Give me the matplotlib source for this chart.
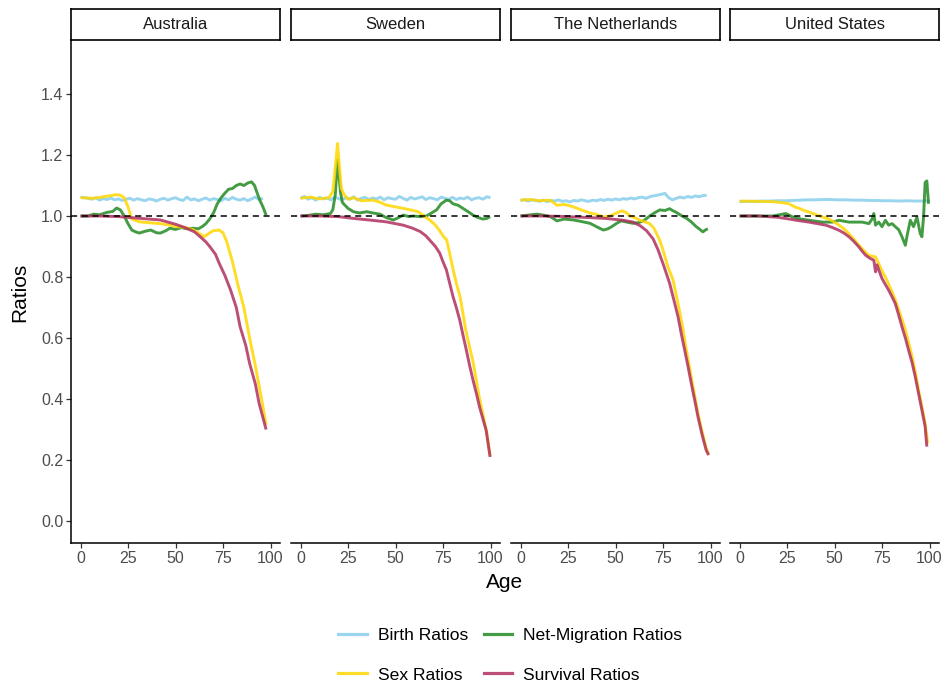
import numpy as np
import matplotlib.pyplot as plt
from matplotlib.lines import Line2D

plt.rcParams['font.family'] = ['Liberation Sans', 'DejaVu Sans']

countries = ['Australia', 'Sweden', 'The Netherlands', 'United States']
series_names = ['Birth Ratios', 'Net-Migration Ratios', 'Sex Ratios', 'Survival Ratios']
colors = {'Birth Ratios': '#87CEEB', 'Net-Migration Ratios': '#228B22',
          'Sex Ratios': '#FFD700', 'Survival Ratios': '#B03060'}

# ---- Australia ----
au_birth_age = list(range(0, 98, 2))
au_birth = [1.062, 1.060, 1.058, 1.055, 1.060, 1.052, 1.057, 1.054, 1.059, 1.053, 1.056, 1.051,
            1.055, 1.058, 1.052, 1.057, 1.053, 1.050, 1.056, 1.054, 1.049, 1.055, 1.058, 1.052,
            1.057, 1.060, 1.054, 1.051, 1.062, 1.053, 1.056, 1.050, 1.055, 1.059, 1.052, 1.057,
            1.054, 1.050, 1.058, 1.053, 1.061, 1.055, 1.052, 1.057, 1.050, 1.056, 1.062, 1.054, 1.058]
au_net_age = [0, 4, 7, 10, 14, 17, 19, 21, 23, 25, 27, 29, 31, 34, 37, 40, 42, 45, 47, 50, 53, 56,
              59, 62, 64, 66, 68, 70, 72, 74, 76, 78, 80, 82, 84, 86, 88, 90, 91.6, 93, 94.5, 96, 97.7]
au_net = [1.0, 1.0, 1.006, 1.004, 1.012, 1.015, 1.026, 1.02, 1.0, 0.975, 0.954, 0.948, 0.944, 0.95,
          0.954, 0.945, 0.944, 0.952, 0.96, 0.956, 0.962, 0.958, 0.96, 0.958, 0.965, 0.975, 0.99,
          1.01, 1.04, 1.06, 1.075, 1.088, 1.09, 1.1, 1.105, 1.1, 1.108, 1.112, 1.1, 1.075, 1.05,
          1.03, 1.003]
au_sex_age = [0, 7, 14, 19, 21, 23, 25, 27, 31, 36, 42, 47, 51, 55, 59, 62, 65, 68, 70, 73, 75, 77,
              80, 83, 86, 89, 92, 95, 97.7]
au_sex = [1.06, 1.058, 1.065, 1.07, 1.068, 1.06, 1.03, 0.99, 0.981, 0.978, 0.975, 0.970, 0.965,
          0.962, 0.956, 0.945, 0.932, 0.945, 0.952, 0.954, 0.945, 0.915, 0.85, 0.77, 0.70, 0.60,
          0.51, 0.41, 0.315]
au_surv_age = [0, 10, 20, 30, 42, 50, 55, 60, 63, 66, 68, 71, 73, 76, 79, 82, 84, 87, 89, 92, 94, 97.7]
au_surv = [1.0, 1.0, 0.998, 0.993, 0.987, 0.973, 0.962, 0.948, 0.932, 0.915, 0.9, 0.875, 0.845,
           0.805, 0.757, 0.70, 0.637, 0.575, 0.517, 0.45, 0.386, 0.30]

# ---- Sweden ----
se_birth_age = list(range(0, 101, 2))
se_birth = [1.058, 1.064, 1.055, 1.060, 1.052, 1.061, 1.056, 1.059, 1.053, 1.062, 1.057, 1.054,
            1.060, 1.055, 1.063, 1.052, 1.058, 1.061, 1.054, 1.059, 1.056, 1.062, 1.053, 1.060,
            1.057, 1.055, 1.064, 1.058, 1.052, 1.061, 1.056, 1.059, 1.063, 1.054, 1.060, 1.057,
            1.053, 1.062, 1.058, 1.055, 1.061, 1.054, 1.059, 1.056, 1.062, 1.053, 1.058, 1.060,
            1.055, 1.063, 1.060]
se_net_age = [0, 4, 8, 12, 15.7, 17, 18.3, 19.5, 20.2, 21, 22, 22.7, 25, 27.9, 31, 34.9, 38, 41.9,
              45, 48.9, 51, 54.1, 57, 59.3, 63, 66.3, 69, 71.6, 74, 76.8, 78.5, 80.3, 83, 85.5, 88,
              90.8, 93, 96, 98, 99.8]
se_net = [1.0, 1.002, 1.006, 1.004, 1.008, 1.02, 1.07, 1.184, 1.14, 1.08, 1.045, 1.04, 1.025,
          1.014, 1.01, 1.014, 1.01, 1.006, 0.995, 0.987, 0.993, 1.003, 0.998, 1.0, 0.998, 1.0,
          1.01, 1.02, 1.04, 1.052, 1.05, 1.04, 1.035, 1.025, 1.015, 1.003, 0.996, 0.99, 0.992, 0.998]
se_sex_age = [0, 5, 10, 15, 17, 18.5, 19.5, 20.5, 21.5, 23, 25, 28, 32, 38, 42, 45, 50, 54, 58, 62,
              65, 68, 71, 73, 75, 77, 80, 82, 84, 87, 89, 91, 94, 96, 98, 99.8]
se_sex = [1.058, 1.062, 1.056, 1.06, 1.08, 1.17, 1.238, 1.16, 1.09, 1.07, 1.055, 1.06, 1.05, 1.052,
          1.045, 1.036, 1.03, 1.025, 1.02, 1.014, 1.0, 0.987, 0.97, 0.954, 0.935, 0.921, 0.834,
          0.78, 0.735, 0.626, 0.57, 0.517, 0.408, 0.35, 0.29, 0.215]
se_surv_age = [0, 10, 20, 28, 36, 45, 54, 59, 63, 66, 68, 71, 73.3, 75, 76.8, 78.5, 80.3, 82, 83.8,
               85.5, 87.3, 89, 90.8, 92.5, 94.2, 96, 97.7, 99.8]
se_surv = [1.0, 1.0, 0.998, 0.992, 0.987, 0.981, 0.97, 0.96, 0.949, 0.935, 0.921, 0.9, 0.878, 0.85,
           0.823, 0.78, 0.735, 0.7, 0.659, 0.61, 0.56, 0.51, 0.462, 0.42, 0.375, 0.335, 0.298, 0.21]

# ---- The Netherlands ----
nl_birth_age = list(range(0, 100, 2))
nl_birth = [1.050, 1.054, 1.049, 1.053, 1.051, 1.048, 1.052, 1.047, 1.051, 1.049, 1.053, 1.048,
            1.050, 1.046, 1.051, 1.049, 1.053, 1.050, 1.048, 1.052, 1.050, 1.054, 1.051, 1.055,
            1.052, 1.056, 1.053, 1.057, 1.055, 1.059, 1.056, 1.060, 1.062, 1.058, 1.063, 1.066,
            1.068, 1.071, 1.074, 1.060, 1.053, 1.058, 1.062, 1.059, 1.064, 1.061, 1.066, 1.063,
            1.067, 1.068]
nl_net_age = [0, 4, 8.7, 12, 15.7, 19.2, 23, 27.9, 32, 36.6, 40, 43.6, 46, 48, 50.6, 53, 56, 59.3,
              62, 65, 68, 71, 73.3, 76, 78.5, 80, 82, 85, 87.3, 90, 92.5, 94, 96, 97.5, 98.6]
nl_net = [1.0, 1.003, 1.006, 1.003, 0.998, 0.984, 0.99, 0.987, 0.982, 0.976, 0.965, 0.954, 0.958,
          0.965, 0.976, 0.984, 0.98, 0.976, 0.978, 0.985, 1.0, 1.012, 1.02, 1.018, 1.024, 1.018,
          1.012, 1.0, 0.993, 0.98, 0.965, 0.958, 0.948, 0.955, 0.958]
nl_sex_age = [0, 5, 10, 15.7, 19.2, 23, 27.9, 32, 36.6, 40, 43.6, 47, 50.6, 53.2, 55.5, 57.6, 60,
              62.8, 65, 68, 70, 71.6, 73.3, 75, 77.5, 80.3, 82, 83.8, 85.5, 86.9, 88.5, 90.2, 92,
              93.5, 95.5, 97.7, 99]
nl_sex = [1.052, 1.054, 1.05, 1.052, 1.035, 1.038, 1.03, 1.02, 1.01, 1.005, 0.997, 1.0, 1.01,
          1.017, 1.012, 1.0, 0.995, 0.986, 0.982, 0.975, 0.962, 0.943, 0.92, 0.889, 0.835, 0.79,
          0.74, 0.685, 0.63, 0.575, 0.52, 0.46, 0.40, 0.35, 0.295, 0.24, 0.22]
nl_surv_age = [0, 10, 20, 28, 36, 45, 54, 59.3, 63, 66.3, 69.8, 72.4, 75.5, 78.5, 80.7, 82.9, 84.6,
               86.4, 88.2, 89.9, 91.7, 93.4, 95.5, 97.7, 99]
nl_surv = [1.0, 1.0, 0.999, 0.997, 0.995, 0.992, 0.986, 0.98, 0.968, 0.952, 0.925, 0.889, 0.835,
           0.779, 0.725, 0.67, 0.615, 0.561, 0.506, 0.451, 0.396, 0.342, 0.285, 0.233, 0.216]

# ---- United States ----
us_birth_age = list(range(0, 101, 4))
us_birth = [1.047, 1.048, 1.048, 1.049, 1.049, 1.050, 1.050, 1.051, 1.052, 1.053, 1.053, 1.054,
            1.054, 1.053, 1.053, 1.052, 1.052, 1.051, 1.051, 1.050, 1.050, 1.049, 1.050, 1.049,
            1.049, 1.050]
us_net_age = [0, 8.7, 17.5, 24.4, 27.9, 32.3, 36.6, 43.6, 48.9, 52.4, 57.6, 64.6, 68.1, 69.8, 70.7,
              71.6, 73.3, 75, 76.8, 78.5, 80.3, 82, 83.8, 85.5, 87.3, 88.1, 89.9, 91.6, 93.4, 95.1,
              96, 96.9, 97.7, 98.6, 99.5]
us_net = [1.0, 1.0, 1.0, 1.008, 0.997, 0.99, 0.986, 0.98, 0.98, 0.986, 0.98, 0.98, 0.975, 0.99,
          1.008, 0.97, 0.98, 0.965, 0.986, 0.97, 0.975, 0.965, 0.955, 0.932, 0.904, 0.932, 0.986,
          0.965, 0.997, 0.943, 0.932, 1.0, 1.11, 1.115, 1.04]
us_sex_age = [0, 10, 17.5, 22, 26.2, 29, 31.4, 34, 36.6, 40, 43.6, 47, 50, 52.4, 55, 57.6, 60, 62.8,
              65, 68, 70, 71.6, 73.3, 75, 76.8, 79, 82, 84.5, 87.3, 89, 90.8, 92.5, 94.2, 96, 97.7,
              99.1]
us_sex = [1.049, 1.048, 1.047, 1.044, 1.04, 1.03, 1.025, 1.018, 1.013, 1.005, 0.997, 0.99, 0.98,
          0.97, 0.958, 0.942, 0.925, 0.904, 0.89, 0.871, 0.868, 0.866, 0.844, 0.82, 0.8, 0.77,
          0.725, 0.68, 0.627, 0.585, 0.54, 0.49, 0.43, 0.375, 0.32, 0.254]
us_surv_age = [0, 10, 20, 26.2, 31, 36.6, 41, 45.4, 49, 52.4, 55, 57.6, 60, 62.8, 64.5, 66.3, 68.5,
               70.7, 71.6, 72.4, 73.5, 75, 76.8, 78.5, 80.3, 82, 83.8, 85.5, 87.3, 89, 90.8, 92.5,
               94.2, 96, 97.7, 98.6]
us_surv = [1.0, 1.0, 0.996, 0.99, 0.985, 0.98, 0.975, 0.97, 0.962, 0.953, 0.944, 0.932, 0.918,
           0.899, 0.885, 0.872, 0.862, 0.855, 0.817, 0.84, 0.82, 0.795, 0.775, 0.757, 0.735, 0.713,
           0.675, 0.637, 0.6, 0.56, 0.52, 0.473, 0.42, 0.364, 0.31, 0.244]

data = {
    'Australia': [(au_birth_age, au_birth), (au_net_age, au_net), (au_sex_age, au_sex), (au_surv_age, au_surv)],
    'Sweden': [(se_birth_age, se_birth), (se_net_age, se_net), (se_sex_age, se_sex), (se_surv_age, se_surv)],
    'The Netherlands': [(nl_birth_age, nl_birth), (nl_net_age, nl_net), (nl_sex_age, nl_sex), (nl_surv_age, nl_surv)],
    'United States': [(us_birth_age, us_birth), (us_net_age, us_net), (us_sex_age, us_sex), (us_surv_age, us_surv)],
}

W, H = 946, 685
fig = plt.figure(figsize=(W / 100, H / 100), dpi=100)

panel_left = [71, 291, 511, 730]
panel_w = 209
panel_top, panel_bot = 40, 543
strip_top = 9

for i, country in enumerate(countries):
    ax = fig.add_axes([panel_left[i] / W, (H - panel_bot) / H, panel_w / W, (panel_bot - panel_top) / H])
    for name, (x, y) in zip(series_names, data[country]):
        ax.plot(x, y, color=colors[name], lw=2.1, alpha=0.85, solid_capstyle='butt')
    ax.axhline(1.0, color='black', lw=1.1, ls=(0, (4, 3)))
    ax.set_xlim(-5, 105)
    ax.set_ylim(-0.072, 1.577)
    ax.set_xticks([0, 25, 50, 75, 100])
    ax.set_yticks([0.0, 0.2, 0.4, 0.6, 0.8, 1.0, 1.2, 1.4])
    ax.set_yticklabels([f'{v:.1f}' for v in ax.get_yticks()])
    for s in ['top', 'right']:
        ax.spines[s].set_visible(False)
    ax.spines['bottom'].set_linewidth(1.1)
    ax.spines['left'].set_linewidth(1.1)
    ax.tick_params(axis='both', colors='#333333', labelcolor='#4D4D4D', labelsize=11.5,
                   length=3.5, width=0.9, pad=2)
    if i > 0:
        ax.spines['left'].set_visible(False)
        ax.tick_params(axis='y', left=False, labelleft=False)

    # facet strip
    sax = fig.add_axes([panel_left[i] / W, (H - panel_top) / H, panel_w / W, (panel_top - strip_top) / H])
    sax.set_xticks([])
    sax.set_yticks([])
    for s in sax.spines.values():
        s.set_linewidth(1.2)
        s.set_color('black')
    sax.text(0.5, 0.5, country, ha='center', va='center', fontsize=12, color='#1A1A1A',
             transform=sax.transAxes)

fig.text(20 / W, (H - 292) / H, 'Ratios', rotation=90, ha='center', va='center', fontsize=15)
fig.text(505 / W, (H - 582) / H, 'Age', ha='center', va='center', fontsize=15)

handles = [Line2D([], [], color=colors[n], lw=2.3, alpha=0.85) for n in
           ['Birth Ratios', 'Sex Ratios', 'Net-Migration Ratios', 'Survival Ratios']]
labels = ['Birth Ratios', 'Sex Ratios', 'Net-Migration Ratios', 'Survival Ratios']
fig.legend(handles, labels, ncol=2, loc='center', bbox_to_anchor=(510 / W, (H - 655) / H),
           frameon=False, fontsize=12.6, handlelength=1.65, labelspacing=1.4,
           columnspacing=0.9, handletextpad=0.6)

fig.savefig('out.png', dpi=100)
